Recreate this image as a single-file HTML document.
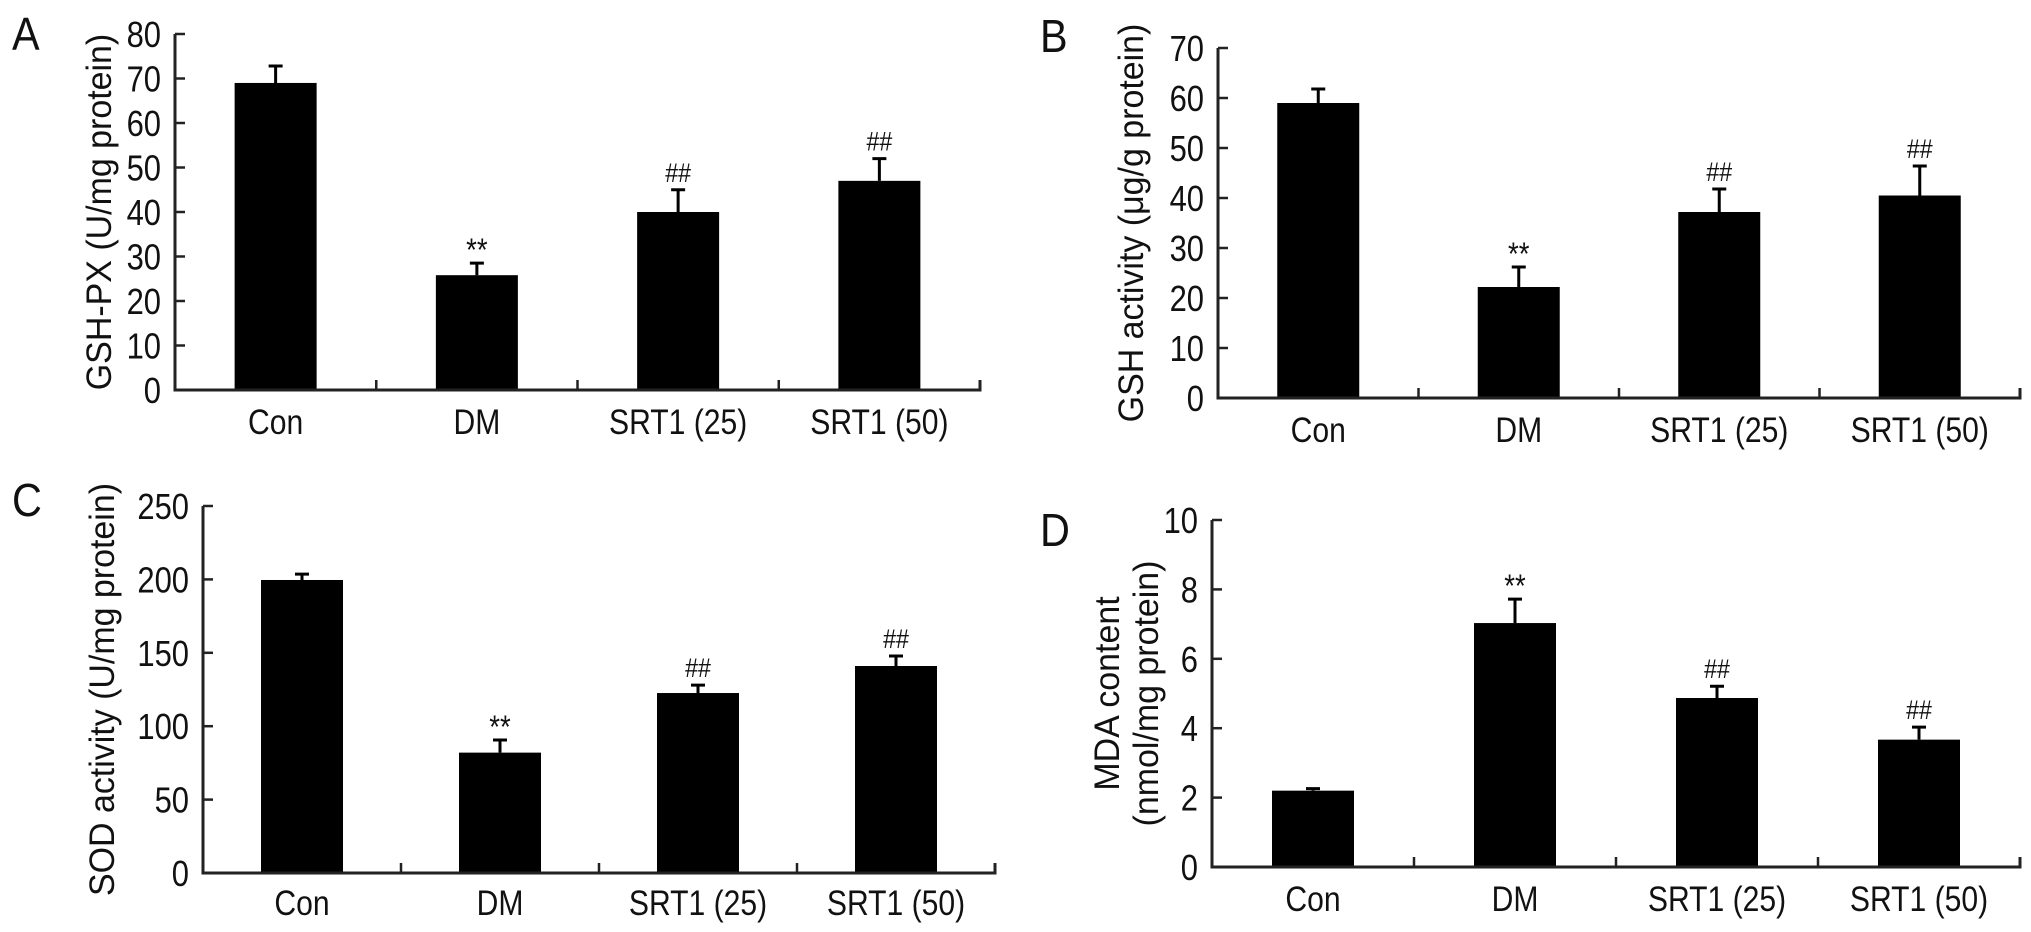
<!DOCTYPE html>
<html><head><meta charset="utf-8">
<style>
html,body{margin:0;padding:0;background:#fff;}
svg{display:block;}
text{font-family:"Liberation Sans",Arial,sans-serif;fill:#111;}
</style></head>
<body>
<svg id="fig" width="2031" height="932" viewBox="0 0 2031 932" xmlns="http://www.w3.org/2000/svg"></svg>
<script>
const categories = ["Con","DM","SRT1 (25)","SRT1 (50)"];
const valuesA = [69, 25.8, 40, 47];
const errorsA = [3.8, 2.7, 5, 5];
const annotA = ["", "**", "##", "##"];
const ticksA = [0,10,20,30,40,50,60,70,80];
const valuesB = [59, 22.2, 37.2, 40.5];
const errorsB = [2.8, 4, 4.6, 5.9];
const annotB = ["", "**", "##", "##"];
const ticksB = [0,10,20,30,40,50,60,70];
const valuesC = [199.6, 82, 122.6, 141];
const errorsC = [4, 8.6, 5.4, 6.8];
const annotC = ["", "**", "##", "##"];
const ticksC = [0,50,100,150,200,250];
const valuesD = [2.2, 7.03, 4.87, 3.67];
const errorsD = [0.06, 0.69, 0.34, 0.36];
const annotD = ["", "**", "##", "##"];
const ticksD = [0,2,4,6,8,10];

const NS = "http://www.w3.org/2000/svg";
const svg = document.getElementById("fig");
const SX = 0.86;
function mk(tag, attrs, parent){
  const e = document.createElementNS(NS, tag);
  for (const k in attrs) e.setAttribute(k, attrs[k]);
  (parent||svg).appendChild(e);
  return e;
}
function txt(parent, x, y, s, size, anchor, sx){
  const t = mk("text", {x:0, y:0, "font-size":size, "text-anchor":anchor||"start"}, parent);
  t.setAttribute("transform", `translate(${x} ${y}) scale(${sx||SX} 1)`);
  t.textContent = s;
  return t;
}

const panels = [
  {id:"a", letter:"A", lx:12, ly:50, x0:175, x1:980, y0:390, y1:34, max:80, ticks:ticksA, vals:valuesA, errs:errorsA, ann:annotA, titles:["GSH-PX (U/mg protein)"], tx:[100], labelY:434},
  {id:"b", letter:"B", lx:1040, ly:52, x0:1218, x1:2020, y0:398, y1:48, max:70, ticks:ticksB, vals:valuesB, errs:errorsB, ann:annotB, titles:["GSH activity (\u03bcg/g protein)"], tx:[1132], labelY:442},
  {id:"c", letter:"C", lx:12, ly:516, x0:203, x1:995, y0:873, y1:506, max:250, ticks:ticksC, vals:valuesC, errs:errorsC, ann:annotC, titles:["SOD activity (U/mg protein)"], tx:[103], labelY:915},
  {id:"d", letter:"D", lx:1040, ly:546, x0:1212, x1:2020, y0:867, y1:520, max:10, ticks:ticksD, vals:valuesD, errs:errorsD, ann:annotD, titles:["MDA content","(nmol/mg protein)"], tx:[1108,1147], labelY:911}
];

panels.forEach(p => {
  const g = mk("g", {});
  
  
  const yScale = v => p.y0 - (v / p.max) * (p.y0 - p.y1);
  const bw = (p.x1 - p.x0) / categories.length;
  const xCenter = i => p.x0 + bw * (i + 0.5);

  const L = txt(g, p.lx, p.ly, p.letter, 46, "start", 0.9);
  
  

  const midY = (p.y0 + p.y1) / 2;
  p.titles.forEach((t, k) => {
    const T = mk("text", {x:0, y:0, "font-size":35, "text-anchor":"middle", "dominant-baseline":"central",
      transform:`translate(${p.tx[k]} ${midY}) rotate(-90) scale(0.97 1)`}, g);
    T.textContent = t;
    
    
  });

  p.vals.forEach((v, i) => {
    const cx = xCenter(i);
    const top = yScale(v);
    const r = mk("rect", {x:cx - 41, y:top, width:82, height:p.y0 - top, fill:"#000"}, g);
    
    
    const et = yScale(v + p.errs[i]);
    const el = mk("path", {d:`M${cx} ${top} V${et} M${cx-7} ${et} H${cx+7}`, stroke:"#000", "stroke-width":3, fill:"none"}, g);
    
    
    if (p.ann[i]) {
      const isStar = p.ann[i] === "**";
      const a = txt(g, cx, isStar ? et - 2 : et - 8, p.ann[i], isStar ? 32 : 27, "middle");
      
      
    }
    const xl = txt(g, cx, p.labelY, categories[i], 35, "middle");
    
    
  });

  const ax = mk("path", {d:`M${p.x0} ${p.y1} V${p.y0} H${p.x1} V${p.y0-10}`, stroke:"#222", "stroke-width":3, fill:"none"}, g);
  
  
  for (let i = 1; i < categories.length; i++) {
    const x = p.x0 + bw * i;
    const t = mk("line", {x1:x, x2:x, y1:p.y0, y2:p.y0 - 10, stroke:"#222", "stroke-width":2.5}, g);
    
    
  }
  p.ticks.forEach(tv => {
    const y = yScale(tv);
    const t = mk("line", {x1:p.x0, x2:p.x0 + 10, y1:y, y2:y, stroke:"#222", "stroke-width":2.5}, g);
    
    
    const tl = txt(g, p.x0 - 14, y + 13, String(tv), 36, "end");
    
    
  });
});
</script>
</body></html>
